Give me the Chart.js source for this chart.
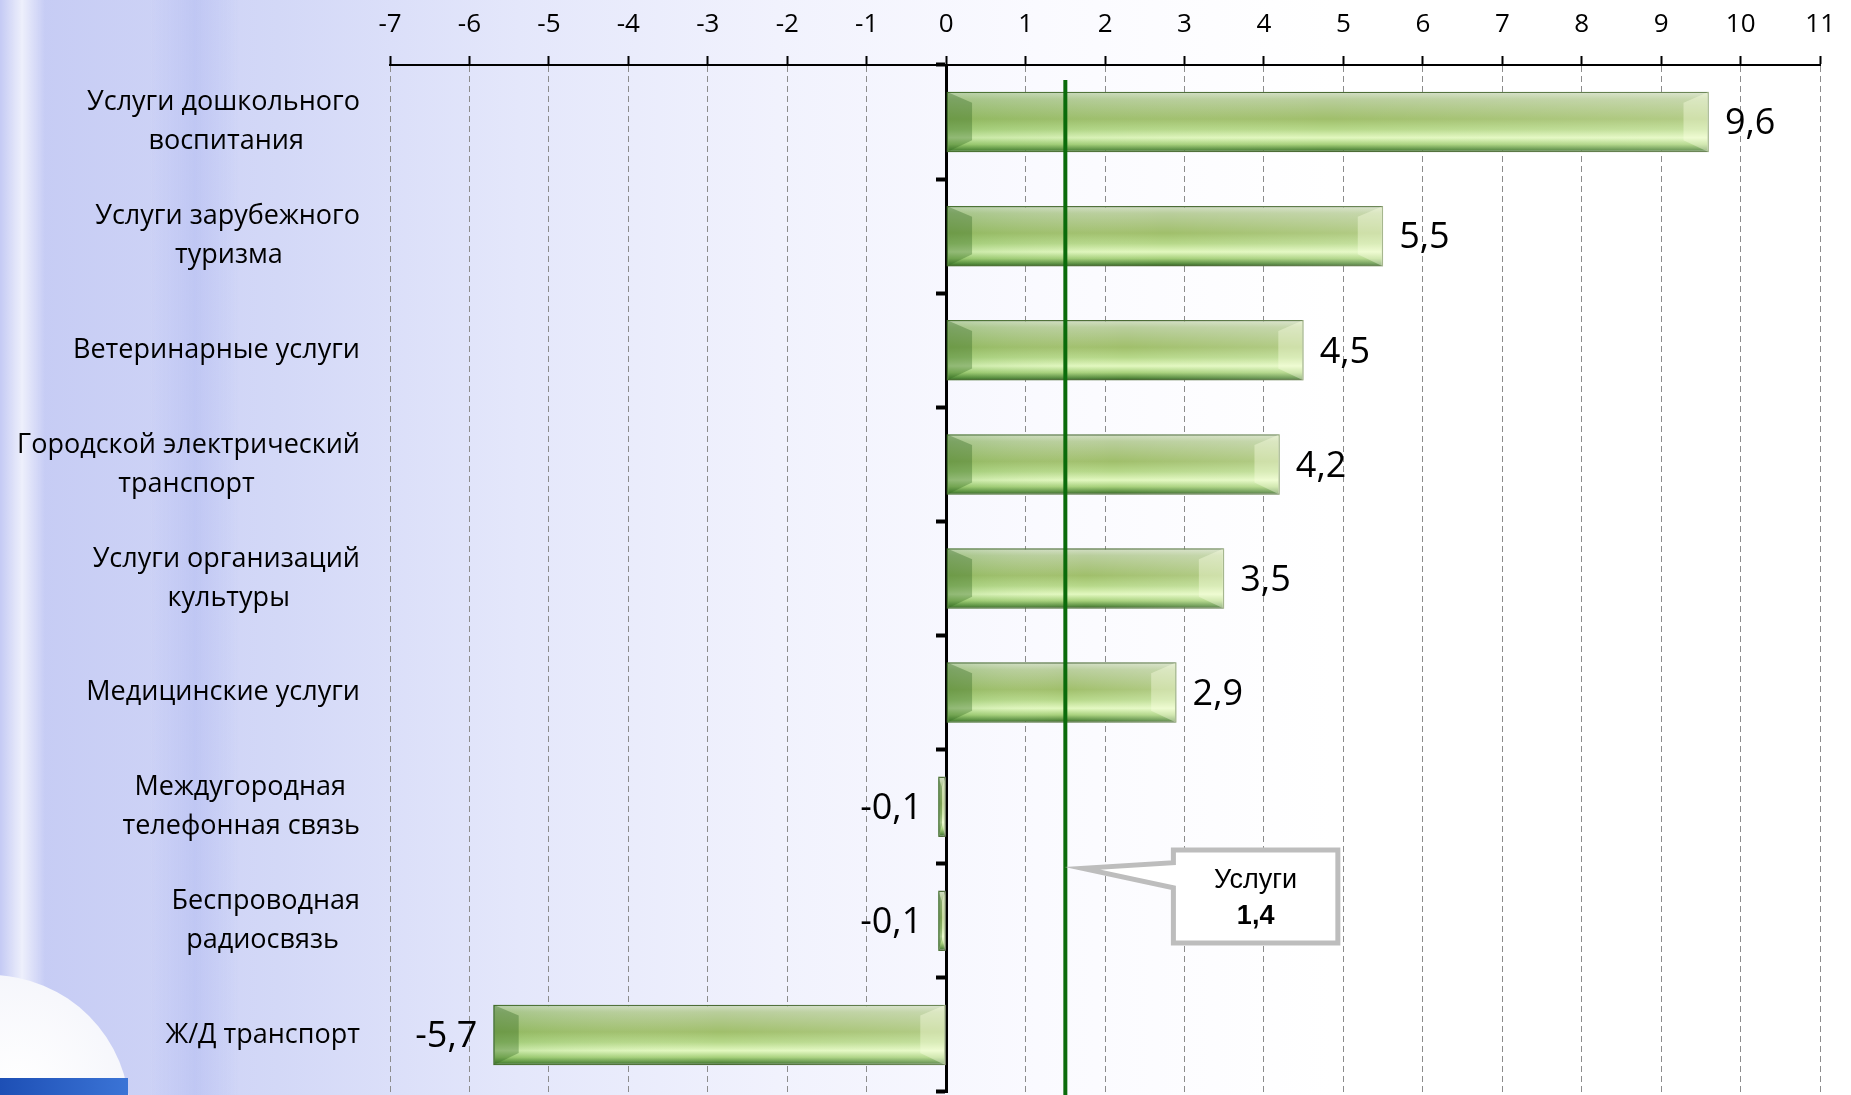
<!DOCTYPE html>
<html lang="ru">
<head>
<meta charset="utf-8">
<title>Услуги</title>
<script src="https://cdn.jsdelivr.net/npm/chart.js@4.4.1/dist/chart.umd.min.js"></script>
<style>
    html, body {
        margin: 0;
        padding: 0;
        width: 1851px;
        height: 1095px;
        overflow: hidden;
    }
    body {
        background:
            linear-gradient(to right, rgba(255,255,255,0) 0px, rgba(255,255,255,0.7) 22px, rgba(255,255,255,0) 45px,
                rgba(170,180,240,0) 150px, rgba(170,180,240,0.4) 195px, rgba(170,180,240,0) 240px),
            linear-gradient(to right, #c4caf4 0%, #d3d8f7 15%, #e4e7fb 28%, #f1f2fd 42%, #fafaff 56%, #ffffff 72%);
    }
    #orb {
        position: absolute;
        left: -150px;
        top: 975px;
        width: 280px;
        height: 280px;
        border-radius: 50%;
        background: radial-gradient(circle at 60% 40%, #ffffff 0%, #f4f5fb 55%, #d8dbe8 80%, #b9bdd0 100%);
    }
    #stripe {
        position: absolute;
        left: 0;
        top: 1078px;
        width: 128px;
        height: 17px;
        background: linear-gradient(to right, #1d4fb5, #3b74d6);
    }
    #wrap {
        position: absolute;
        left: 0;
        top: 0;
        width: 1851px;
        height: 1095px;
    }
</style>
</head>
<body>
<div id="orb"></div>
<div id="stripe"></div>
<div id="wrap"><canvas id="chart"></canvas></div>
<script>
// Категории (сверху вниз) и значения, %
const categories = [
    ['Услуги дошкольного', 'воспитания'],
    ['Услуги зарубежного', 'туризма'],
    ['Ветеринарные услуги'],
    ['Городской электрический', 'транспорт'],
    ['Услуги организаций', 'культуры'],
    ['Медицинские услуги'],
    ['Междугородная', 'телефонная связь'],
    ['Беспроводная', 'радиосвязь'],
    ['Ж/Д транспорт']
];
const values = [9.6, 5.5, 4.5, 4.2, 3.5, 2.9, -0.1, -0.1, -5.7];

// Шкала
const xMin = -7;
const xMax = 11;
const xStep = 1;

// Средний показатель по услугам
const averageTitle = 'Услуги';
const averageValue = 1.4;
const averageLineAt = 1.5; // на картинке линия стоит чуть правее 1,4

const BAR_SHARE = 0.53;
const LABEL_FONT = '27px "Open Sans"';

/**
 * Формат числа с запятой
 */
function formatNumber(v) {
    return v.toFixed(1).replace('.', ',');
}

/**
 * Центрирование строк подписи: короткие строки добиваются пробелами справа
 */
const measureCtx = document.createElement('canvas').getContext('2d');
function centerLines(lines) {
    if (lines.length < 2) return lines;
    measureCtx.font = LABEL_FONT;
    const widths = lines.map(l => measureCtx.measureText(l).width);
    const widest = Math.max(...widths);
    const space = measureCtx.measureText(' ').width;
    return lines.map((l, i) => l + ' '.repeat(Math.round((widest - widths[i]) / 2 / space)));
}

/**
 * Заливка столбика с объемом
 */
function barFill(c) {
    const chart = c.chart;
    const yScale = chart.scales.y;
    if (!chart.chartArea || !yScale) return '#a3c46e';
    const center = yScale.getPixelForValue(c.dataIndex);
    const half = yScale.height / categories.length * BAR_SHARE / 2;
    const g = chart.ctx.createLinearGradient(0, center - half, 0, center + half);
    g.addColorStop(0, '#d5e0c8');
    g.addColorStop(0.12, '#b9ce9c');
    g.addColorStop(0.45, '#a0bf6b');
    g.addColorStop(0.62, '#b6d889');
    g.addColorStop(0.76, '#e2f8bf');
    g.addColorStop(0.87, '#a6d07a');
    g.addColorStop(0.95, '#5b8f41');
    g.addColorStop(1, '#2f5b22');
    return g;
}

// Скосы по краям столбиков
const bevelPlugin = {
    id: 'bevel',
    afterDatasetsDraw(chart) {
        const ctx = chart.ctx;
        chart.getDatasetMeta(0).data.forEach(el => {
            const p = el.getProps(['x', 'y', 'base', 'height'], true);
            const x0 = Math.min(p.x, p.base);
            const x1 = Math.max(p.x, p.base);
            const y0 = p.y - p.height / 2;
            const y1 = p.y + p.height / 2;
            const b = Math.min(p.height * 0.42, (x1 - x0) / 2);
            ctx.save();
            // слева зеленее, справа светлее
            const h = ctx.createLinearGradient(x0, 0, x1, 0);
            h.addColorStop(0, 'rgba(70, 150, 40, 0.18)');
            h.addColorStop(0.5, 'rgba(255, 255, 255, 0)');
            h.addColorStop(1, 'rgba(255, 255, 240, 0.2)');
            ctx.fillStyle = h;
            ctx.fillRect(x0, y0, x1 - x0, y1 - y0);

            ctx.fillStyle = 'rgba(45, 100, 30, 0.35)';
            ctx.beginPath();
            ctx.moveTo(x0, y0);
            ctx.lineTo(x0 + b, y0 + p.height * 0.18);
            ctx.lineTo(x0 + b, y0 + p.height * 0.8);
            ctx.lineTo(x0, y1);
            ctx.closePath();
            ctx.fill();
            ctx.fillStyle = 'rgba(250, 255, 225, 0.4)';
            ctx.beginPath();
            ctx.moveTo(x1, y0);
            ctx.lineTo(x1 - b, y0 + p.height * 0.18);
            ctx.lineTo(x1 - b, y0 + p.height * 0.8);
            ctx.lineTo(x1, y1);
            ctx.closePath();
            ctx.fill();
            ctx.restore();
        });
    }
};

// Подписи значений
const valueLabelPlugin = {
    id: 'valueLabels',
    afterDatasetsDraw(chart) {
        const ctx = chart.ctx;
        ctx.save();
        ctx.font = '36px "Open Sans"';
        ctx.fillStyle = '#000';
        ctx.textBaseline = 'middle';
        chart.getDatasetMeta(0).data.forEach((el, i) => {
            const v = values[i];
            const p = el.getProps(['x', 'y'], true);
            ctx.textAlign = v >= 0 ? 'left' : 'right';
            ctx.fillText(formatNumber(v), p.x + (v >= 0 ? 16 : -16), p.y + 2);
        });
        ctx.restore();
    }
};

// Линия среднего и выноска
const averagePlugin = {
    id: 'average',
    afterDraw(chart) {
        const ctx = chart.ctx;
        const xs = chart.scales.x;
        const ys = chart.scales.y;
        const lx = xs.getPixelForValue(averageLineAt);

        ctx.save();
        ctx.strokeStyle = '#0b6b0b';
        ctx.lineWidth = 4;
        ctx.beginPath();
        ctx.moveTo(lx, chart.chartArea.top + 15);
        ctx.lineTo(lx, chart.height);
        ctx.stroke();

        // выноска
        const bx0 = xs.getPixelForValue(2.86);
        const bx1 = xs.getPixelForValue(4.93);
        const by0 = ys.getPixelForValue(6.38);
        const by1 = ys.getPixelForValue(7.195);
        const tx = xs.getPixelForValue(1.72);
        const ty = ys.getPixelForValue(6.54);
        ctx.beginPath();
        ctx.moveTo(bx0, by0);
        ctx.lineTo(bx1, by0);
        ctx.lineTo(bx1, by1);
        ctx.lineTo(bx0, by1);
        ctx.lineTo(bx0, ys.getPixelForValue(6.71));
        ctx.lineTo(tx, ty);
        ctx.lineTo(bx0, ys.getPixelForValue(6.49));
        ctx.closePath();
        ctx.fillStyle = '#ffffff';
        ctx.fill();
        ctx.strokeStyle = '#bdbdbd';
        ctx.lineWidth = 5;
        ctx.stroke();

        const cx = (bx0 + bx1) / 2;
        ctx.fillStyle = '#000';
        ctx.textAlign = 'center';
        ctx.textBaseline = 'middle';
        ctx.font = '27px "Liberation Sans"';
        ctx.fillText(averageTitle, cx, by0 + (by1 - by0) * 0.33);
        ctx.font = 'bold 27px "Liberation Sans"';
        ctx.fillText(formatNumber(averageValue), cx, by0 + (by1 - by0) * 0.71);
        ctx.restore();
    }
};

const ctx = document.getElementById('chart').getContext('2d');
new Chart(ctx, {
    type: 'bar',
    data: {
        labels: categories,
        datasets: [{
            data: values,
            xAxisID: 'x',
            yAxisID: 'y',
            backgroundColor: barFill,
            borderColor: '#4a6a33',
            borderWidth: 1.5,
            borderSkipped: false,
            barPercentage: BAR_SHARE,
            categoryPercentage: 1
        }]
    },
    options: {
        indexAxis: 'y',
        responsive: true,
        maintainAspectRatio: false,
        animation: false,
        devicePixelRatio: 1,
        layout: {
            padding: { left: 0, right: 27, top: 0, bottom: 3 }
        },
        plugins: {
            legend: { display: false },
            tooltip: { enabled: false }
        },
        scales: {
            x: {
                type: 'linear',
                position: 'top',
                min: xMin,
                max: xMax,
                ticks: {
                    stepSize: xStep,
                    color: '#000',
                    padding: 16,
                    font: { family: 'Open Sans', size: 26 },
                    callback: v => String(v)
                },
                grid: {
                    color: '#8c8c8c',
                    lineWidth: 1,
                    tickColor: '#000',
                    tickWidth: 2,
                    tickLength: 9,
                    tickBorderDash: []
                },
                border: {
                    color: '#000',
                    width: 2,
                    dash: [6, 4]
                },
                afterFit: scale => { scale.height = 65; }
            },
            y: {
                type: 'category',
                position: 'left',
                offset: true,
                grid: { display: false, drawTicks: false },
                border: { display: false },
                ticks: {
                    color: '#000',
                    padding: 30,
                    font: { family: 'Open Sans', size: 27, lineHeight: 1.45 },
                    callback: (v, i) => centerLines(categories[i])
                },
                afterFit: scale => {
                    scale.width = 390;
                    scale.paddingTop = 0;
                    scale.paddingBottom = 0;
                }
            },
            y2: {
                type: 'category',
                axis: 'y',
                position: { x: 0 },
                labels: categories,
                offset: true,
                grid: {
                    offset: true,
                    drawOnChartArea: false,
                    tickColor: '#000',
                    tickWidth: 4,
                    tickLength: 9
                },
                border: { color: '#000', width: 3 },
                ticks: { display: false },
                afterFit: scale => {
                    scale.paddingTop = 0;
                    scale.paddingBottom = 0;
                }
            }
        }
    },
    plugins: [bevelPlugin, valueLabelPlugin, averagePlugin]
});
</script>
</body>
</html>
